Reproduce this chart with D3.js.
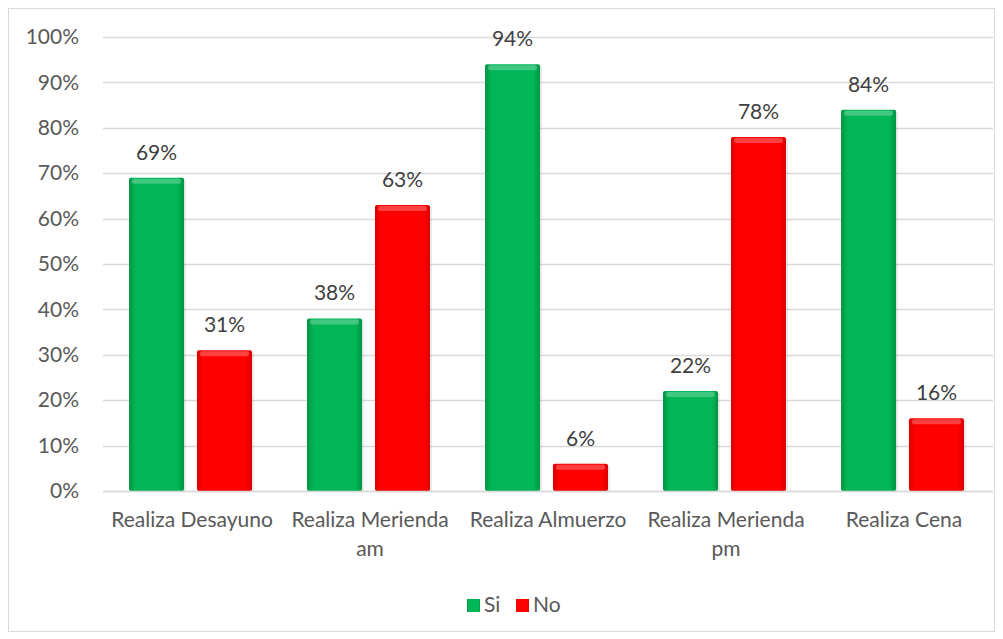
<!DOCTYPE html>
<html>
<head>
<meta charset="utf-8">
<script src="https://cdn.jsdelivr.net/npm/d3@7"></script>
<style>
  body { margin: 0; background: #fff; }
  text { font-family: Lato, "Open Sans", sans-serif; fill: #595959; }
</style>
</head>
<body>
<svg width="1003" height="639"></svg>
<script>
// categories and series
var categories = ["Realiza Desayuno", "Realiza Merienda am", "Realiza Almuerzo", "Realiza Merienda pm", "Realiza Cena"];
var si = [69, 38, 94, 22, 84];
var no = [31, 63, 6, 78, 16];
var series = ["Si", "No"];
var yTicks = [0, 10, 20, 30, 40, 50, 60, 70, 80, 90, 100];

var colors = {Si: ["#009443", "#00b656"], No: ["#dd0000", "#ff0000"]};
var fontSize = "21px";

var svg = d3.select("svg"),
    margin = {top: 37, right: 10, bottom: 148, left: 103},
    width = 993 - margin.left,
    height = 491 - margin.top;

// outer frame
svg.append("rect")
    .attr("x", 8.5).attr("y", 8.5)
    .attr("width", 986).attr("height", 623)
    .attr("fill", "#fff")
    .attr("stroke", "#d9d9d9");

var defs = svg.append("defs");
series.forEach(function(s) {
    var gr = defs.append("linearGradient").attr("id", "grad" + s)
        .attr("x1", "0").attr("x2", "1").attr("y1", "0").attr("y2", "0");
    gr.append("stop").attr("offset", "0%").attr("stop-color", colors[s][0]);
    gr.append("stop").attr("offset", "12%").attr("stop-color", colors[s][1]);
    gr.append("stop").attr("offset", "88%").attr("stop-color", colors[s][1]);
    gr.append("stop").attr("offset", "100%").attr("stop-color", colors[s][0]);
});

var g = svg.append("g").attr("transform", "translate(" + margin.left + "," + margin.top + ")");

var x0 = d3.scaleBand().domain(categories).range([0, width]).padding(0);
var x1 = d3.scaleBand().domain(series).range([26, x0.bandwidth() - 29]).paddingInner(0.19);
var y = d3.scaleLinear().domain([0, 100]).range([height, 0]);

// gridlines
g.append("g").selectAll("line")
    .data(yTicks)
    .enter().append("line")
    .attr("x1", 0).attr("x2", width)
    .attr("y1", function(d) { return Math.round(y(d)) + 0.5; })
    .attr("y2", function(d) { return Math.round(y(d)) + 0.5; })
    .attr("stroke", "#d9d9d9")
    .attr("stroke-width", 1.5);

// y axis labels
var yAxis = g.append("g")
    .call(d3.axisLeft(y).tickValues(yTicks).tickSize(0).tickPadding(24)
        .tickFormat(function(d) { return d + "%"; }));
yAxis.select(".domain").remove();
yAxis.selectAll("text").style("font-size", fontSize).attr("fill", "#595959");

var rows = categories.map(function(c, i) {
    return {cat: c, values: [{key: "Si", v: si[i]}, {key: "No", v: no[i]}]};
});

var groups = g.selectAll(".grp")
    .data(rows)
    .enter().append("g")
    .attr("class", "grp")
    .attr("transform", function(d) { return "translate(" + x0(d.cat) + ",0)"; });

var bars = groups.selectAll(".bar")
    .data(function(d) { return d.values; })
    .enter().append("g").attr("class", "bar");

// soft shadow
bars.append("rect")
    .attr("x", function(d) { return x1(d.key) + 2; })
    .attr("y", function(d) { return y(d.v) + 2; })
    .attr("width", x1.bandwidth())
    .attr("height", function(d) { return height - y(d.v) - 2; })
    .attr("fill", "#000").attr("opacity", 0.08);

bars.append("rect")
    .attr("x", function(d) { return x1(d.key); })
    .attr("y", function(d) { return y(d.v); })
    .attr("width", x1.bandwidth())
    .attr("height", function(d) { return height - y(d.v); })
    .attr("rx", 2)
    .attr("fill", function(d) { return "url(#grad" + d.key + ")"; });

// top bevel highlight
bars.append("rect")
    .attr("x", function(d) { return x1(d.key) + 3; })
    .attr("y", function(d) { return y(d.v) + 1; })
    .attr("width", x1.bandwidth() - 6)
    .attr("height", function(d) { return Math.min(5, height - y(d.v) - 1); })
    .attr("rx", 2)
    .attr("fill", "#fff").attr("opacity", 0.25);

bars.append("text")
    .attr("x", function(d) { return x1(d.key) + x1.bandwidth() / 2; })
    .attr("y", function(d) { return y(d.v) - 18; })
    .attr("text-anchor", "middle")
    .style("font-size", fontSize)
    .style("fill", "#404040")
    .text(function(d) { return d.v + "%"; });

// x axis
g.append("line")
    .attr("x1", 0).attr("x2", width)
    .attr("y1", height + 0.5).attr("y2", height + 0.5)
    .attr("stroke", "#d9d9d9").attr("stroke-width", 1.5);

var xAxis = g.append("g")
    .attr("transform", "translate(0," + height + ")")
    .call(d3.axisBottom(x0).tickSize(0).tickPadding(21));
xAxis.select(".domain").remove();
xAxis.selectAll("text").style("font-size", fontSize).attr("fill", "#595959")
    .call(wrap, x0.bandwidth());

function wrap(text, w) {
    text.each(function() {
        var t = d3.select(this),
            words = t.text().split(/\s+/).reverse(),
            word, line = [], lineNo = 0,
            yy = t.attr("y"), dy = parseFloat(t.attr("dy")),
            tspan = t.text(null).append("tspan").attr("x", 0).attr("y", yy).attr("dy", dy + "em");
        while ((word = words.pop())) {
            line.push(word);
            tspan.text(line.join(" "));
            if (tspan.node().getComputedTextLength() > w && line.length > 1) {
                line.pop();
                tspan.text(line.join(" "));
                line = [word];
                tspan = t.append("tspan").attr("x", 0).attr("y", yy)
                    .attr("dy", (++lineNo * 1.38 + dy) + "em").text(word);
            }
        }
    });
}

// legend
var legend = svg.append("g").attr("transform", "translate(467,599)");
var items = legend.selectAll("g")
    .data(series)
    .enter().append("g")
    .attr("transform", function(d, i) { return "translate(" + (i * 49) + ",0)"; });
items.append("rect")
    .attr("width", 13).attr("height", 13)
    .attr("fill", function(d) { return "url(#grad" + d + ")"; });
items.append("text")
    .attr("x", 17).attr("y", 13)
    .style("font-size", fontSize)
    .text(function(d) { return d; });
</script>
</body>
</html>
